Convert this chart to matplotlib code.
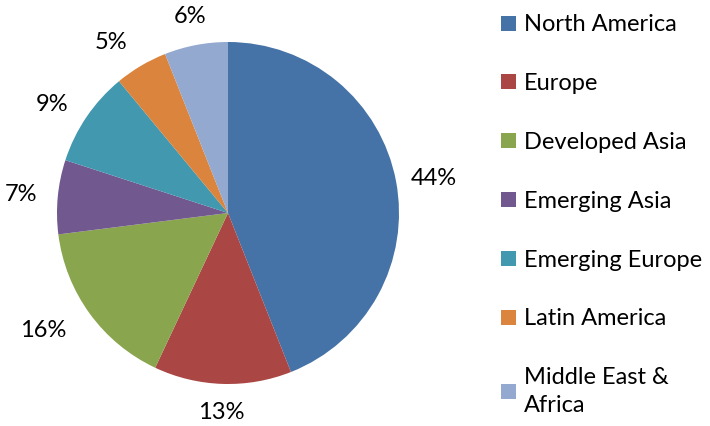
import numpy as np
import matplotlib.pyplot as plt
from matplotlib.patches import Patch

regions = ['North America', 'Europe', 'Developed Asia', 'Emerging Asia',
           'Emerging Europe', 'Latin America', 'Middle East &\nAfrica']
shares = [44, 13, 16, 7, 9, 5, 6]
colors = ['#4572A7', '#AA4643', '#89A54E', '#71588F', '#4198AF', '#DB843D', '#93A9CF']

# how far out each percentage label sits (in pie radii)
label_dist = [1.09, 1.17, 1.17, 1.12, 1.13, 1.16, 1.17]

plt.rcParams['font.family'] = ['Lato', 'DejaVu Sans']

W, H = 710, 426
fig = plt.figure(figsize=(W / 100, H / 100), dpi=100)

# pie centre ~ (228, 213) px, radius ~171 px
cx, cy, r = 228, 213, 171
ax = fig.add_axes([(cx - r) / W, (H - cy - r) / H, 2 * r / W, 2 * r / H])
wedges, texts = ax.pie(shares, colors=colors, startangle=90, counterclock=False,
                       labels=[f'{s}%' for s in shares], labeldistance=1.1,
                       textprops={'fontsize': 17, 'color': '#000000'},
                       wedgeprops={'linewidth': 0})
for w, t, d in zip(wedges, texts, label_dist):
    ang = np.deg2rad((w.theta1 + w.theta2) / 2)
    t.set_position((d * np.cos(ang), d * np.sin(ang)))
    # labels at the very top / bottom are centred like Excel does
    if abs(np.cos(ang)) < 0.2:
        t.set_ha('center')
ax.set_xlim(-1, 1)
ax.set_ylim(-1, 1)
ax.set_aspect('equal')

handles = [Patch(facecolor=c, edgecolor='none') for c in colors]
leg = fig.legend(handles, regions, loc='upper left', bbox_to_anchor=(492 / W, 1.0 - 5 / H),
                 frameon=False, fontsize=17, handlelength=0.6, handleheight=0.6,
                 handletextpad=0.35, labelspacing=1.6, borderaxespad=0)
leg.get_texts()[-1].set_linespacing(1.4)

fig.savefig('out.png', dpi=100)
